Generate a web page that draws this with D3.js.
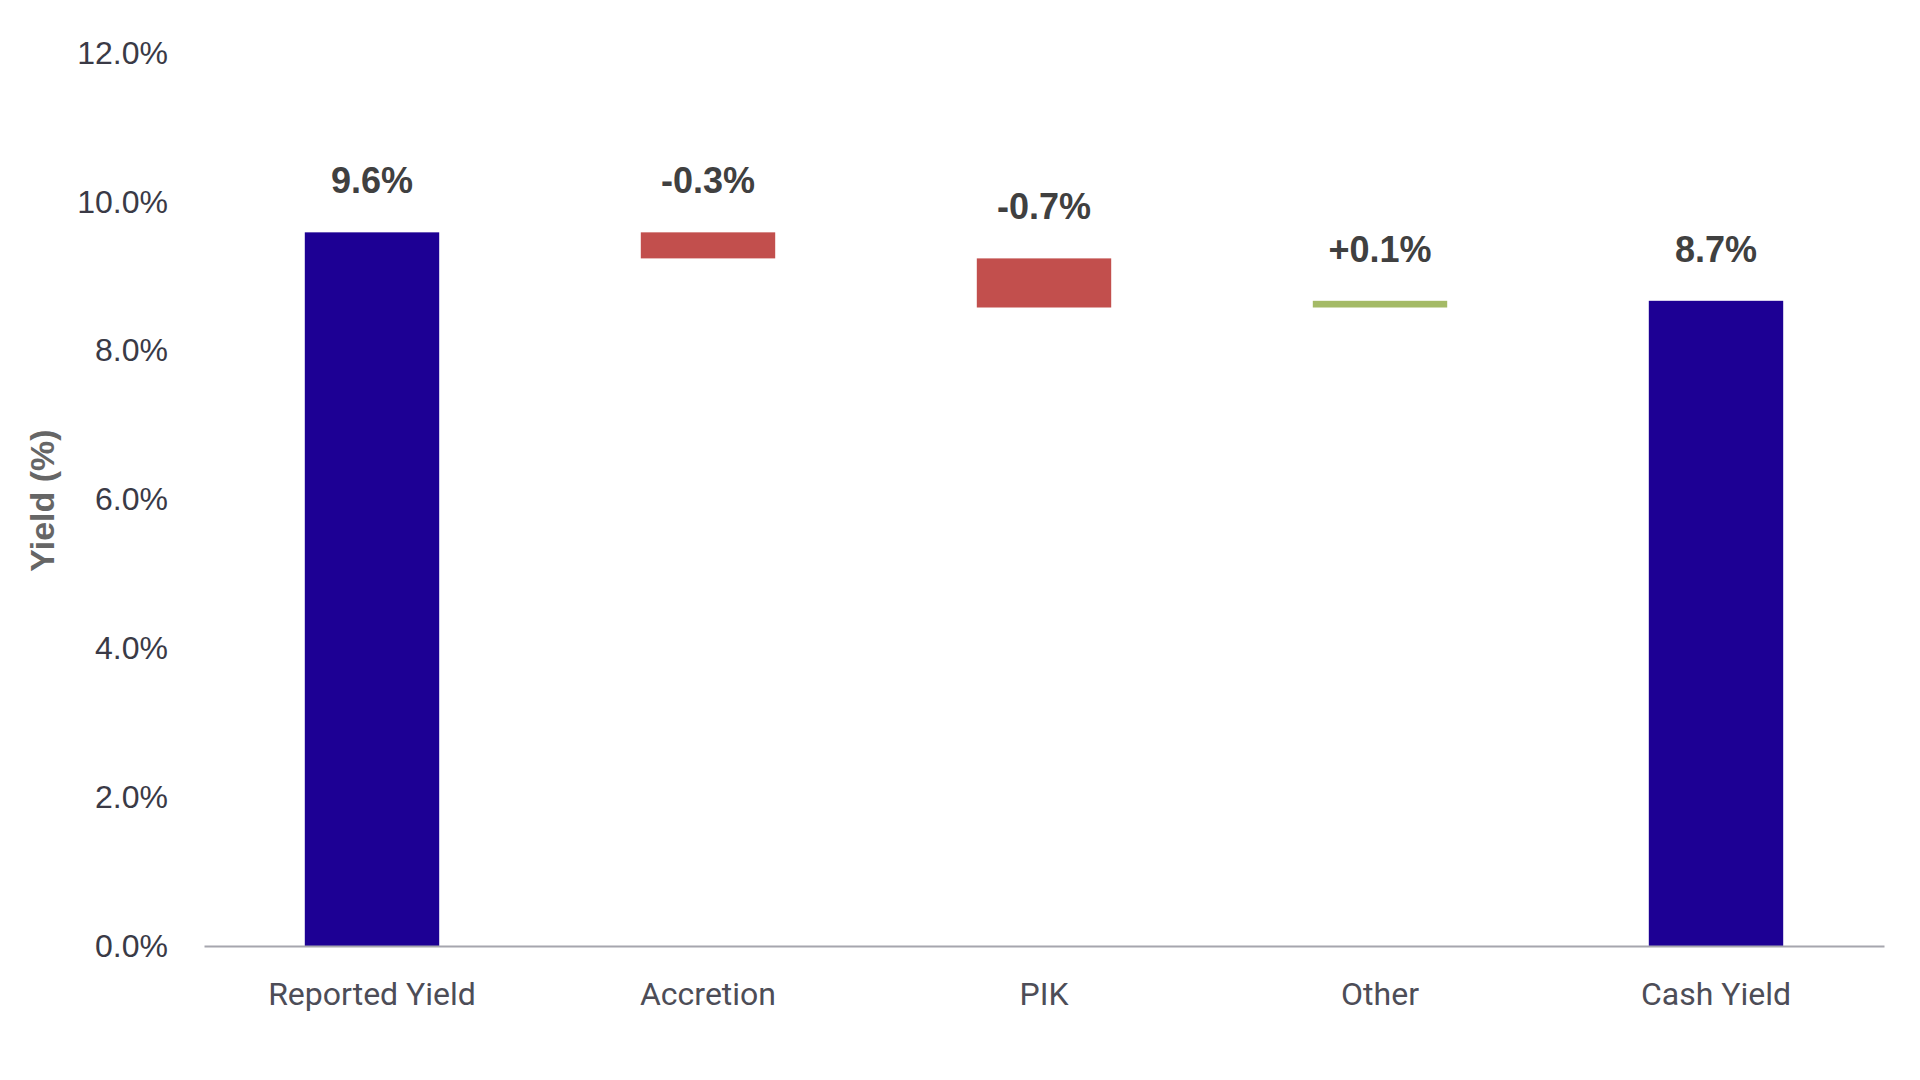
<!DOCTYPE html>
<html>
<head>
<meta charset="utf-8">
<script src="https://cdn.jsdelivr.net/npm/d3@7"></script>
<style>
  html, body { margin: 0; padding: 0; background: #ffffff; }
  svg { display: block; }
</style>
</head>
<body>
<svg id="chart" width="1920" height="1080"></svg>
<script>
// ---- data ----
const categories = ["Reported Yield", "Accretion", "PIK", "Other", "Cash Yield"];
const values = [9.59, -0.35, -0.66, 0.09, 8.67];
const kinds = ["total", "delta", "delta", "delta", "total"];
const valueLabels = ["9.6%", "-0.3%", "-0.7%", "+0.1%", "8.7%"];
const yTicks = [0, 2, 4, 6, 8, 10, 12];
const yTitle = "Yield (%)";

(function () {
// ---- layout ----
const svg = d3.select("#chart");
const mLeft = 204, mRight = 1884, mTop = 53, mBottom = 946;

const x = d3.scaleBand().domain(categories).range([mLeft, mRight])
  .paddingInner(0.6).paddingOuter(0.3);
const y = d3.scaleLinear().domain([0, 12]).range([mBottom, mTop]);

const colors = { total: "#1d0094", neg: "#c24f4d", pos: "#a4ba66" };

// waterfall segments
let running = 0;
const segs = categories.map((c, i) => {
  let y0, y1, color;
  if (kinds[i] === "total") {
    y0 = 0; y1 = values[i]; running = values[i]; color = colors.total;
  } else {
    y0 = running; y1 = running + values[i]; running = y1;
    color = values[i] < 0 ? colors.neg : colors.pos;
  }
  return { c, lo: Math.min(y0, y1), hi: Math.max(y0, y1), color, label: valueLabels[i] };
});

// y axis
const yAxis = d3.axisLeft(y).tickValues(yTicks)
  .tickFormat(d => d3.format(".1f")(d) + "%")
  .tickSize(0).tickPadding(36);
const gy = svg.append("g").attr("transform", `translate(${mLeft},0)`).call(yAxis);
gy.select(".domain").remove();
gy.selectAll("text")
  .attr("font-family", "'Liberation Sans', Arial, sans-serif")
  .attr("font-size", 32)
  .attr("fill", "#3a3a46");

// bars
svg.append("g").selectAll("rect").data(segs).join("rect")
  .attr("x", d => x(d.c))
  .attr("width", x.bandwidth())
  .attr("y", d => y(d.hi))
  .attr("height", d => y(d.lo) - y(d.hi))
  .attr("fill", d => d.color);

// x axis
const xAxis = d3.axisBottom(x).tickSize(0).tickPadding(36);
const gx = svg.append("g").attr("transform", `translate(0,${mBottom})`).call(xAxis);
gx.select(".domain").attr("stroke", "#a6a6ae").attr("stroke-width", 2);
gx.selectAll("text")
  .attr("font-family", "Roboto, 'Open Sans', sans-serif")
  .attr("font-size", 32)
  .attr("fill", "#4d4d57");

// value labels
svg.append("g").selectAll("text").data(segs).join("text")
  .attr("x", d => x(d.c) + x.bandwidth() / 2)
  .attr("y", d => y(d.hi) - 39)
  .attr("text-anchor", "middle")
  .attr("font-family", "'Liberation Sans', Arial, sans-serif")
  .attr("font-weight", "bold")
  .attr("font-size", 36)
  .attr("fill", "#404040")
  .text(d => d.label);

// y title
svg.append("text")
  .attr("transform", `translate(54,${(mTop + mBottom) / 2 + 1}) rotate(-90)`)
  .attr("text-anchor", "middle")
  .attr("font-family", "'Liberation Sans', Arial, sans-serif")
  .attr("font-weight", "bold")
  .attr("font-size", 34)
  .attr("fill", "#666666")
  .text(yTitle);
})();
</script>
</body>
</html>
